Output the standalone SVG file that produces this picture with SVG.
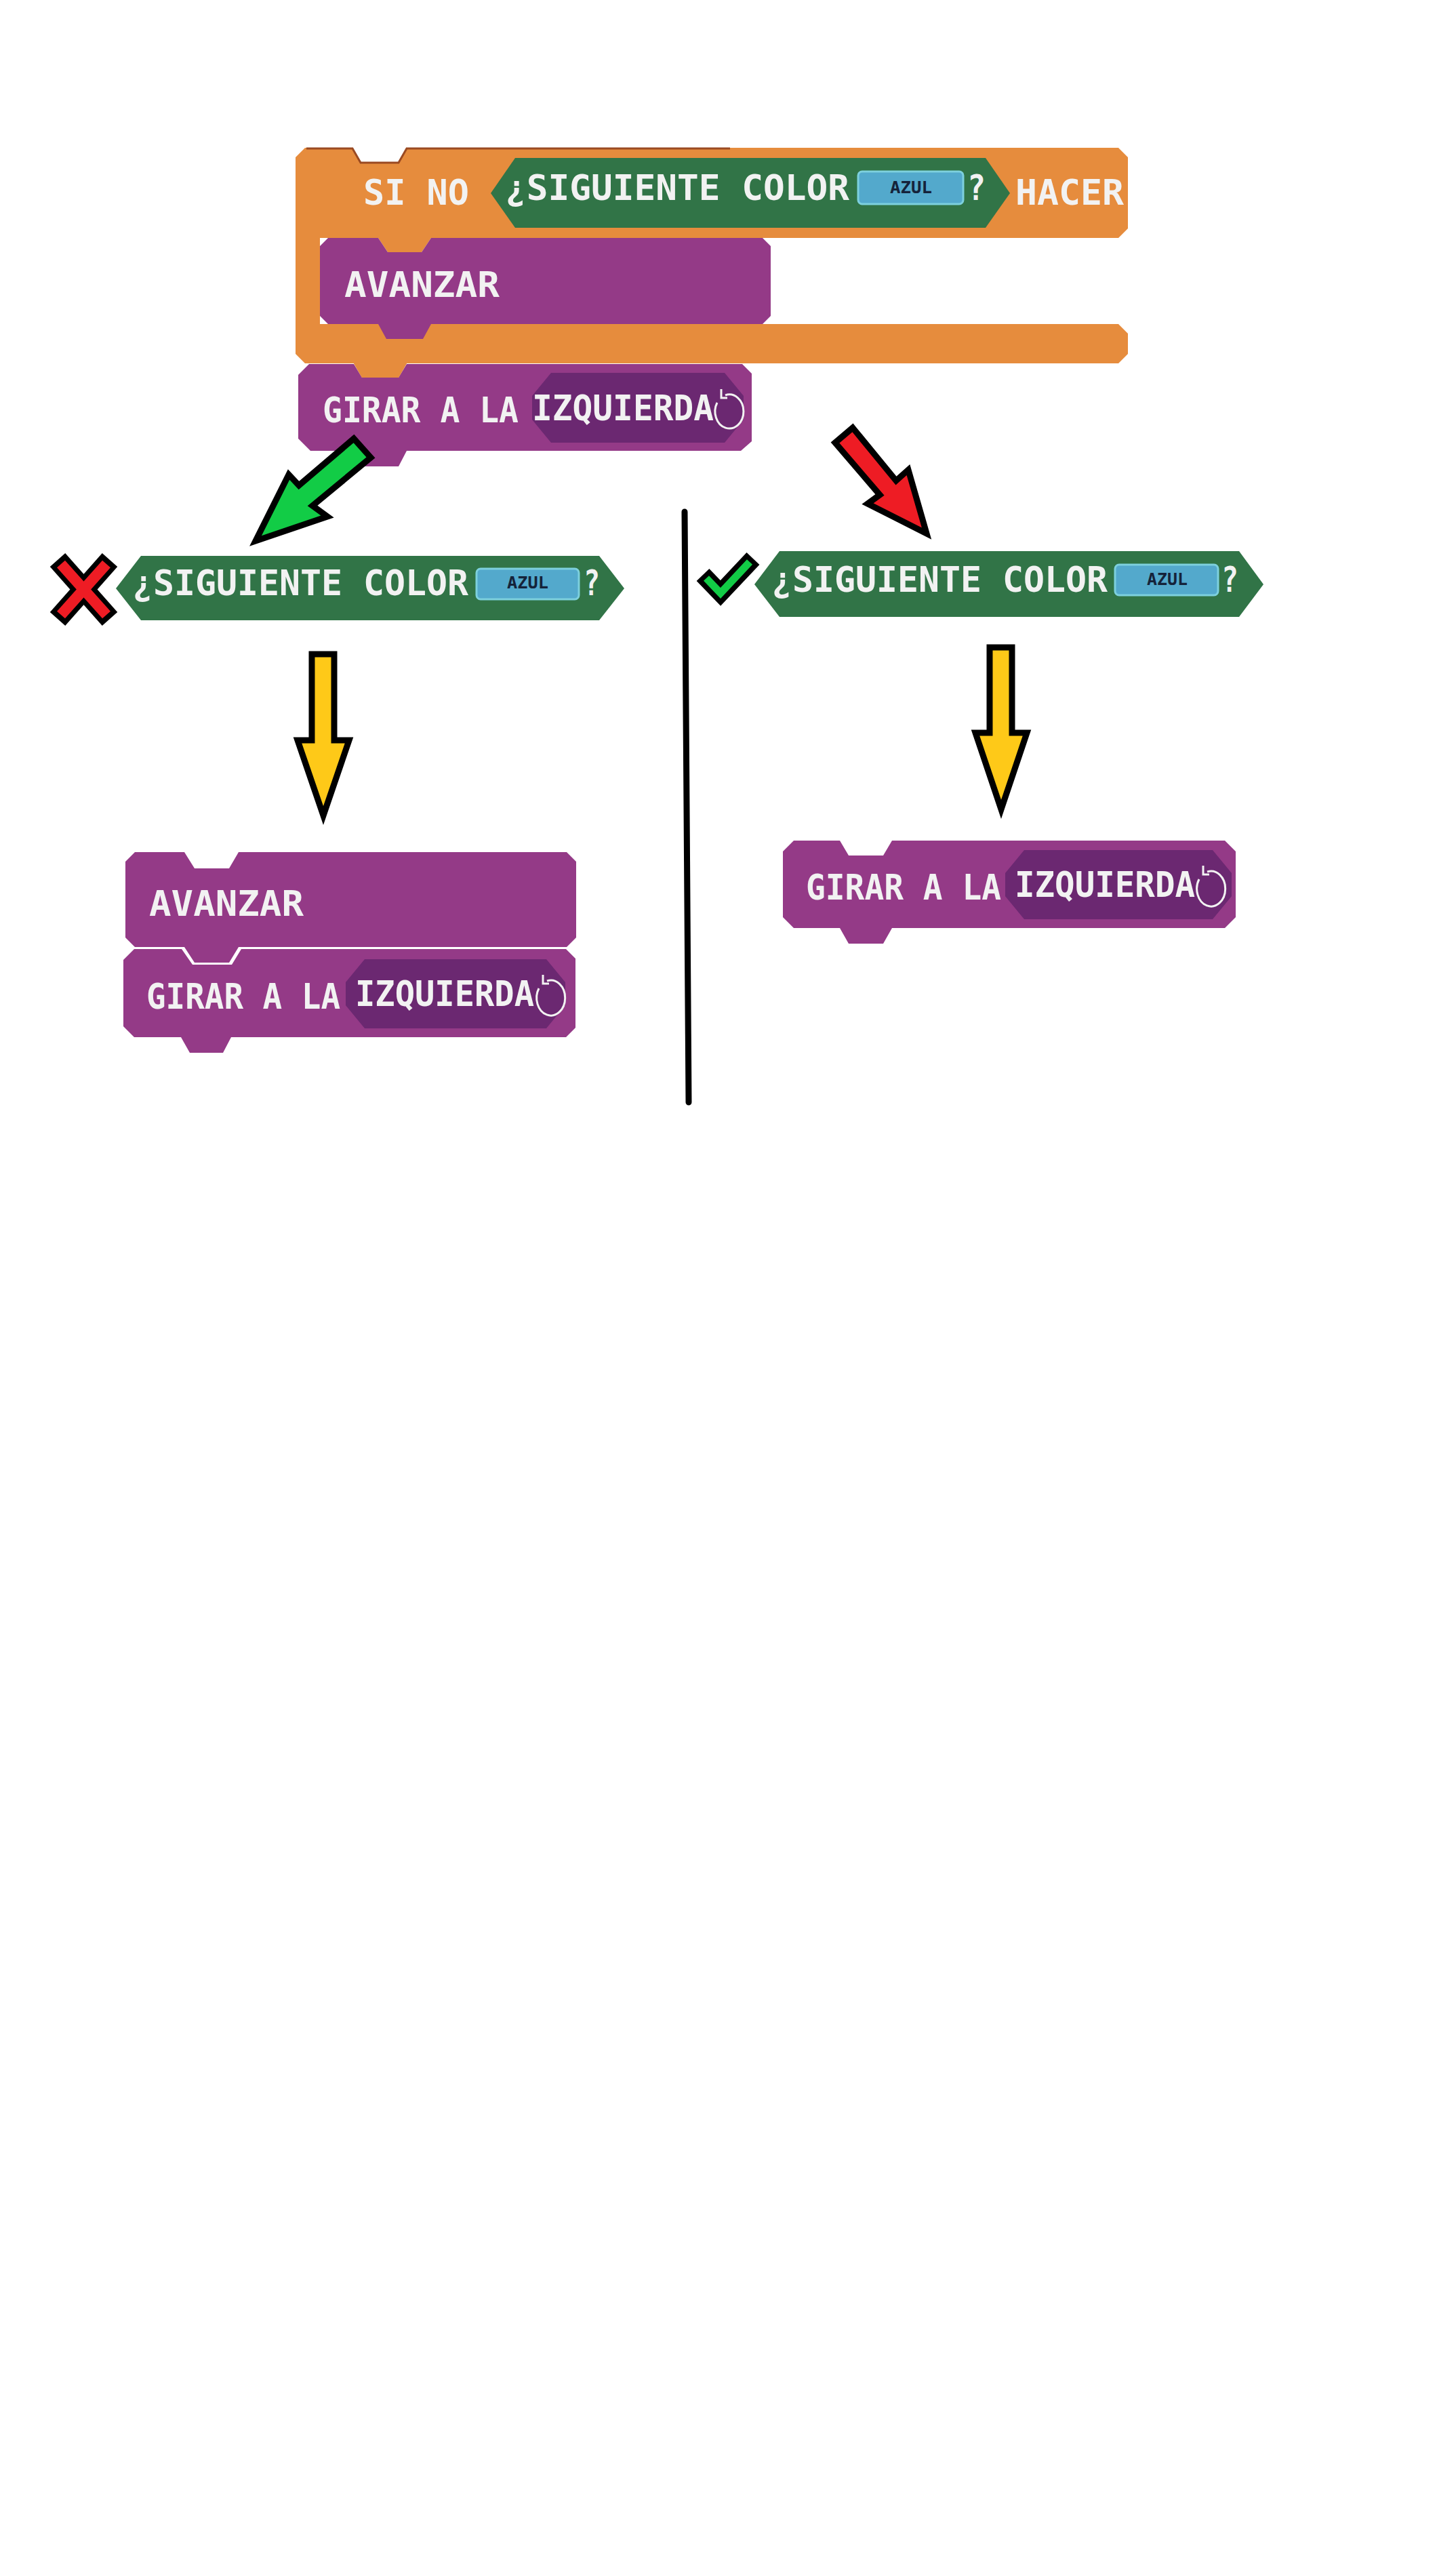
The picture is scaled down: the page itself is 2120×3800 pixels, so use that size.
<svg xmlns="http://www.w3.org/2000/svg" width="2120" height="3800" viewBox="0 0 2120 3800">
<style>
.orange{fill:#e68c3d}
.purple{fill:#943a87}
.pill{fill:#6b2871}
.green{fill:#317447}
.field{fill:#53a9cc;stroke:#7dd0dd;stroke-width:3}
.t{font-family:"DejaVu Sans Mono","Liberation Mono",monospace;font-weight:bold;fill:#f2f2f2;font-size:51px}
.az{font-family:"DejaVu Sans Mono","Liberation Mono",monospace;font-weight:bold;fill:#15233a;font-size:25px}
.icon{fill:none;stroke:#f2f2f2;stroke-width:3}
.arrow{stroke:#000;stroke-width:9;stroke-linejoin:miter;stroke-miterlimit:6}
</style>
<rect width="2120" height="3800" fill="#ffffff"/>

<!-- main orange C block with nested blocks -->
<g id="main-block">
  <path class="orange" d="M450 218 H520 L532 240 H588 L600 218 H1650 L1664 232 V337 L1650 351 H636 L622 372 H572 L558 351 H472 V478 H1650 L1664 492 V522 L1650 536 H600 L588 557 H534 L522 536 H450 L436 522 V232 Z"/>
  <path d="M452 219 H520 L532 240 H588 L600 219 H1077" fill="none" stroke="#9a4a22" stroke-width="3"/>
  <text class="t" x="536" y="302" textLength="156" lengthAdjust="spacingAndGlyphs">SI NO</text>
  <path class="green" d="M724 285 L760 233 H1454 L1490 285 L1454 336 H760 Z"/>
  <text class="t" x="745" y="295" textLength="508" lengthAdjust="spacingAndGlyphs">¿SIGUIENTE COLOR</text>
  <rect class="field" x="1266" y="253" width="155" height="48" rx="6"/>
  <text class="az" x="1313" y="285" textLength="62" lengthAdjust="spacingAndGlyphs">AZUL</text>
  <text class="t" x="1427" y="295" textLength="27" lengthAdjust="spacingAndGlyphs">?</text>
  <text class="t" x="1498" y="302" textLength="160" lengthAdjust="spacingAndGlyphs">HACER</text>
</g>

<g id="main-avanzar">
  <path class="purple" d="M484 351 H558 L572 372 H622 L636 351 H1125 L1137 363 V466 L1125 478 H636 L624 500 H570 L558 478 H484 L472 466 V363 Z"/>
  <text class="t" x="508" y="438" textLength="229" lengthAdjust="spacingAndGlyphs">AVANZAR</text>
</g>

<g id="main-girar">
  <path class="purple" d="M456 537 H522 L534 557 H588 L600 537 H1095 L1109 551 V651 L1093 665 H600 L588 688 H536 L524 665 H458 L440 647 V553 Z"/>
  <path class="orange" d="M522 536 H600 L588 557 H534 Z"/>
  <text class="t" x="476" y="623" textLength="289" lengthAdjust="spacingAndGlyphs">GIRAR A LA</text>
  <path class="pill" d="M813 550 H1069 L1097 584 V619 L1069 653 H813 L785 619 V584 Z"/>
  <text class="t" x="785" y="620" textLength="268" lengthAdjust="spacingAndGlyphs">IZQUIERDA</text>
  <path class="icon" d="M1070 583 A21 25 0 1 1 1058 594"/>
  <path class="icon" d="M1064 574 V587 H1073"/>
</g>

<!-- left branch -->
<g id="left-condition">
  <path class="green" d="M171 868 L208 820 H884 L921 868 L884 915 H208 Z"/>
  <text class="t" x="195" y="878" textLength="496" lengthAdjust="spacingAndGlyphs">¿SIGUIENTE COLOR</text>
  <rect class="field" x="703" y="839" width="151" height="45" rx="6"/>
  <text class="az" x="748" y="868" textLength="61" lengthAdjust="spacingAndGlyphs">AZUL</text>
  <text class="t" x="861" y="878" textLength="24" lengthAdjust="spacingAndGlyphs">?</text>
</g>

<g id="wrong-mark">
  <line x1="85" y1="826" x2="162" y2="913" stroke="#000" stroke-width="30"/>
  <line x1="162" y1="826" x2="85" y2="913" stroke="#000" stroke-width="30"/>
  <line x1="90" y1="832" x2="157" y2="907" stroke="#ee1c24" stroke-width="16"/>
  <line x1="157" y1="832" x2="90" y2="907" stroke="#ee1c24" stroke-width="16"/>
</g>

<g id="left-result">
  <path class="purple" d="M198 1400 H268 L284 1423 H342 L356 1400 H835 L849 1414 V1516 L835 1530 H341 L329 1553 H280 L267 1530 H198 L182 1514 V1416 Z"/>
  <text class="t" x="216" y="1488" textLength="286" lengthAdjust="spacingAndGlyphs">GIRAR A LA</text>
  <path class="pill" d="M538 1415 H806 L834 1449 V1483 L806 1517 H538 L510 1483 V1449 Z"/>
  <text class="t" x="524" y="1484" textLength="264" lengthAdjust="spacingAndGlyphs">IZQUIERDA</text>
  <path class="icon" d="M807 1447 A21 26 0 1 1 795 1458"/>
  <path class="icon" d="M801 1438 V1451 H810"/>
  <path class="purple" d="M199 1257 H272 L287 1281 H338 L352 1257 H836 L850 1271 V1383 L836 1397 H352 L338 1420 H287 L272 1397 H199 L185 1383 V1271 Z"/>
  <text class="t" x="220" y="1351" textLength="228" lengthAdjust="spacingAndGlyphs">AVANZAR</text>
</g>

<!-- right branch -->
<g id="right-condition">
  <path class="green" d="M1113 862 L1150 813 H1828 L1864 862 L1828 910 H1150 Z"/>
  <text class="t" x="1138" y="873" textLength="496" lengthAdjust="spacingAndGlyphs">¿SIGUIENTE COLOR</text>
  <rect class="field" x="1645" y="833" width="152" height="45" rx="6"/>
  <text class="az" x="1692" y="863" textLength="60" lengthAdjust="spacingAndGlyphs">AZUL</text>
  <text class="t" x="1802" y="873" textLength="25" lengthAdjust="spacingAndGlyphs">?</text>
</g>

<g id="right-mark">
  <polyline points="1037,848 1063,875 1111,824" fill="none" stroke="#000" stroke-width="26" stroke-linejoin="miter"/>
  <polyline points="1042,853 1063,875 1106,829" fill="none" stroke="#12cc46" stroke-width="11" stroke-linejoin="miter"/>
</g>

<g id="right-result">
  <path class="purple" d="M1171 1240 H1239 L1252 1262 H1303 L1316 1240 H1807 L1823 1256 V1353 L1807 1369 H1316 L1303 1392 H1252 L1239 1369 H1171 L1155 1353 V1256 Z"/>
  <text class="t" x="1189" y="1327" textLength="288" lengthAdjust="spacingAndGlyphs">GIRAR A LA</text>
  <path class="pill" d="M1511 1254 H1789 L1817 1288 V1322 L1789 1356 H1511 L1483 1322 V1288 Z"/>
  <text class="t" x="1497" y="1323" textLength="266" lengthAdjust="spacingAndGlyphs">IZQUIERDA</text>
  <path class="icon" d="M1781 1286 A21 26 0 1 1 1769 1297"/>
  <path class="icon" d="M1775 1277 V1290 H1784"/>
</g>

<!-- connectors -->
<g id="connectors">
  <polygon class="arrow" fill="#12cc46" points="522,647 441,716 426,700 377,798 483,762 461,746 547,675"/>
  <polygon class="arrow" fill="#ee1c24" points="1258,631 1322,709 1340,693 1367,787 1280,743 1298,730 1232,653"/>
  <polygon class="arrow" fill="#fec918" points="460,965 493,965 493,1092 515,1092 477,1203 439,1092 460,1092"/>
  <polygon class="arrow" fill="#fec918" points="1460,955 1493,955 1493,1081 1515,1081 1477,1194 1439,1081 1460,1081"/>
  <line x1="1010" y1="755" x2="1016" y2="1626" stroke="#000" stroke-width="9" stroke-linecap="round"/>
</g>
</svg>
